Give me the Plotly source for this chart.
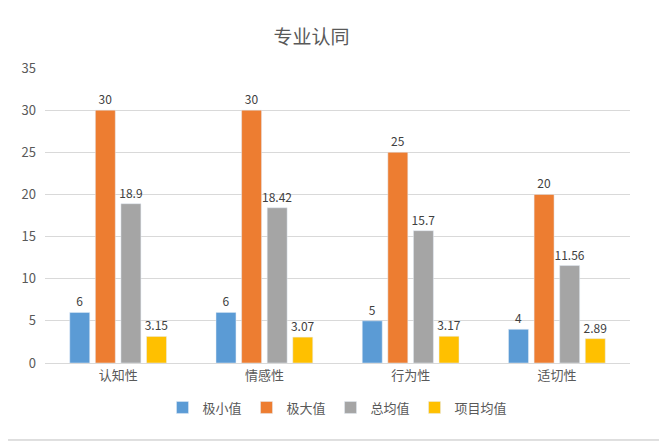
import plotly.graph_objects as go

categories = ["认知性", "情感性", "行为性", "适切性"]
series_names = ["极小值", "极大值", "总均值", "项目均值"]
min_vals = [6, 6, 5, 4]
max_vals = [30, 30, 25, 20]
total_mean = [18.9, 18.42, 15.7, 11.56]
item_mean = [3.15, 3.07, 3.17, 2.89]
colors = ["#5B9BD5", "#ED7D31", "#A5A5A5", "#FFC000"]

fig = go.Figure()
for name, vals, c in zip(series_names, [min_vals, max_vals, total_mean, item_mean], colors):
    fig.add_trace(go.Bar(
        x=categories, y=vals, name=name, marker_color=c,
        text=[str(v) for v in vals], textposition="outside",
        constraintext="none",
        textfont=dict(size=12, color="#404040"), cliponaxis=False,
    ))

fig.update_layout(
    width=667, height=447,
    font=dict(family="Noto Sans CJK SC", color="#595959"),
    title=dict(text="专业认同", x=0.455, y=0.95, xanchor="center",
               font=dict(size=19, color="#595959")),
    plot_bgcolor="white", paper_bgcolor="white",
    margin=dict(l=37, r=45, t=60, b=92),
    barmode="group", bargap=0.3, bargroupgap=0.22,
    legend=dict(orientation="h", x=0.5, xanchor="center", y=-0.1, yanchor="top",
                font=dict(size=13, color="#595959")),
    xaxis=dict(showline=True, linecolor="#D9D9D9", tickfont=dict(size=13)),
    yaxis=dict(range=[0, 35], dtick=5, gridcolor="#D9D9D9", zeroline=False,
               tickfont=dict(size=13), ticklabelstandoff=8),
    shapes=[dict(type="rect", xref="paper", yref="paper",
                 x0=-0.068, x1=1.051, y0=-0.261, y1=1.214,
                 line=dict(color="#BFBFBF", width=1))],
)

fig.write_html("out.html")
